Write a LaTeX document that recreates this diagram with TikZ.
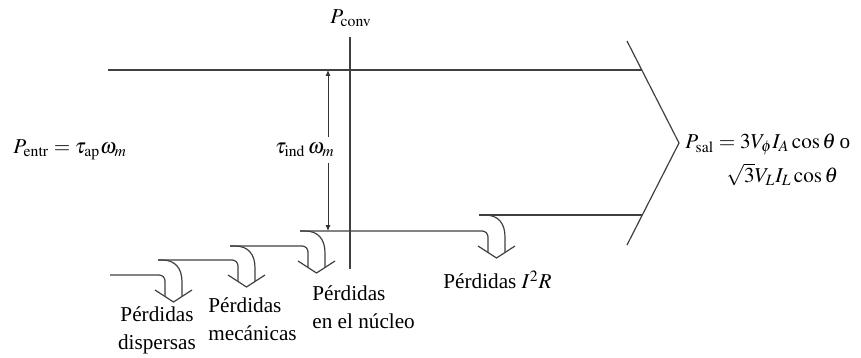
\documentclass[tikz,border=0pt]{standalone}
\usepackage{mathptmx}
\usepackage{fontspec}
\setmainfont{Liberation Serif}
\usepackage{tikz}
\usetikzlibrary{arrows.meta}

\begin{document}
\begin{tikzpicture}[
x=0.5pt,y=-0.5pt,
font=\fontsize{10.6}{14}\selectfont,
flow/.style={draw=black!75, line width=0.6pt},
rounded/.style={flow, rounded corners=3pt},
tip/.style={flow, line join=miter},
dim/.style={{Latex[length=3pt,width=2.6pt]}-{Latex[length=3pt,width=2.6pt]}, draw=black!80, line width=0.5pt},
lbl/.style={inner sep=1pt, align=left}
]
\useasboundingbox (0,0) rectangle (861,358);
% main stream, top edge and output head
\coordinate (topL) at (108,70);
\coordinate (topR) at (642,70);
\coordinate (botR) at (642,215);
\draw[flow] (topL) -- (topR);
\draw[tip] (627,41) -- (679,143) -- (627,245);
% converted power line
\coordinate (convT) at (350,37);
\coordinate (convB) at (350,269);
\draw[flow] (convT) -- (convB);
\node (pconv) at (351,18) {$P_{\mathrm{conv}}$};
% losses: start/in-level/out-level/corner/next start
\foreach \xs/\yin/\yout/\xo/\xn in {110/275/260/165/158, 158/260/246/238/230, 230/246/231/308/300, 300/231/215/488/479} {
  \draw[rounded] (\xs,\yin) -- (\xo,\yin) -- (\xo,\yin+21.5);
  \draw[flow] (\xn,\yout) -- (\xo-3,\yout) .. controls (\xo+10,\yout) and (\xo+17,\yout+8) .. (\xo+17,\yout+22) -- (\xo+17,\yin+21.5);
  \draw[tip] (\xo-10,\yin+15) -- (\xo+8.5,\yin+27) -- (\xo+27,\yin+15);
}
\draw[flow] (479,215) -- (botR);
% induced torque arrow
\coordinate (tauT) at (328,70);
\coordinate (tauB) at (328,231);
\draw[dim] (tauT) -- (tauB);
\node[fill=white, inner sep=3pt] (tau) at (305,150) {$\tau_{\mathrm{ind}}\,\omega_m$};
% texts
\node[anchor=west, inner sep=1pt] (pin) at (11,150) {$P_{\mathrm{entr}} = \tau_{\mathrm{ap}}\omega_m$};
\node[anchor=west, lbl] (pout) at (683,160) {$P_{\mathrm{sal}} = 3V_\phi I_A \cos\theta$\,o\\[3pt]\hspace*{20.5pt}$\sqrt{3}V_L I_L \cos\theta$};
\node[align=center, inner sep=1pt] (lstray) at (157,330) {Pérdidas\\dispersas};
\node[anchor=west, lbl] (lmech) at (206,319) {Pérdidas\\mecánicas};
\node[anchor=west, lbl] (lcore) at (310,307) {Pérdidas\\en el núcleo};
\node[anchor=west, lbl] (lcu) at (441,280) {Pérdidas $I^2R$};
\end{tikzpicture}
\end{document}
